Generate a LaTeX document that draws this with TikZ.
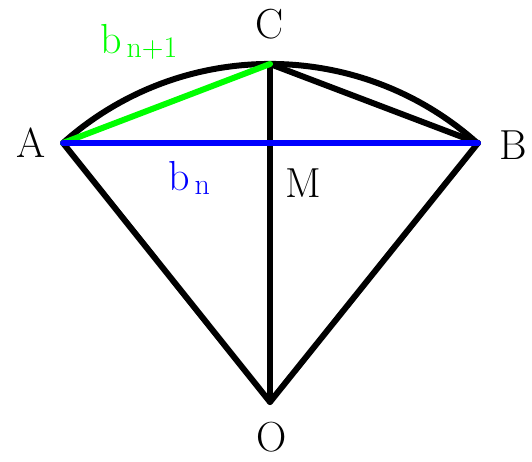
\documentclass[tikz,border=0pt]{standalone}
\begin{document}
\begin{tikzpicture}[x=1pt,y=-1pt,
  seg/.style={line width=6pt,line cap=round,line join=round},
  lbl/.style={font=\fontsize{42}{48}\selectfont,inner sep=0pt}]
\newcommand\subsc[1]{\raisebox{-0.25ex}{\fontsize{30}{34}\selectfont #1}}
\useasboundingbox (0,0) rectangle (532,461);
\coordinate (A) at (63,143);
\coordinate (B) at (478,143);
\coordinate (C) at (270,64);
\coordinate (O) at (270,402);
\coordinate (M) at (270,143);
% arc
\draw[seg] (A) arc[start angle=-131.8,end angle=-48.2,radius=310.7];
\draw[seg] (A) -- (O) -- (B);
\draw[seg] (C) -- (O);
\draw[seg] (C) -- (B);
\draw[seg,green] (A) -- (C);
\draw[seg,blue] (A) -- (B);
\node[lbl] (lA) at (31,143) {A};
\node[lbl] (lB) at (513,145) {B};
\node[lbl] (lC) at (270,24) {C};
\node[lbl] (lM) at (303,183) {M};
\node[lbl] (lO) at (272,437) {O};
\node[lbl,green,anchor=west] (lb1) at (100,42) {b\kern5pt\subsc{n+1}};
\node[lbl,blue,anchor=west] (lb) at (168,178) {b\kern5pt\subsc{n}};
\end{tikzpicture}
\end{document}
